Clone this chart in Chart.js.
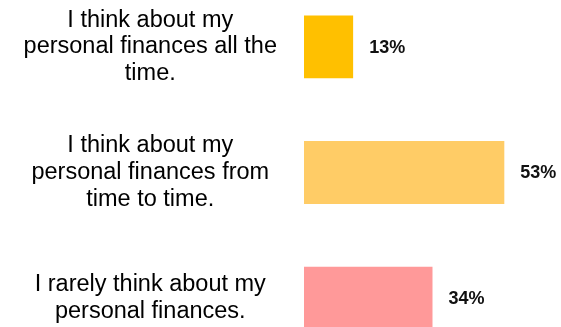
<!DOCTYPE html>
<html lang="en">
<head>
<meta charset="UTF-8">
<title>Personal finances</title>
<style>
html, body { margin:0; padding:0; background:#fff; overflow:hidden; width:561px; height:327px; }
#wrap { position:absolute; left:0; top:-16px; width:561px; height:377px; }
</style>
</head>
<body>
<div id="wrap"><canvas id="chart"></canvas></div>

<script src="https://cdn.jsdelivr.net/npm/chart.js"></script>
<script>
// answer texts, one array entry per line of the label
const categories = [
  ['I think about my', 'personal finances all the', 'time.'],
  ['I think about my', 'personal finances from', 'time to time.'],
  ['I rarely think about my', 'personal finances.']
];
const shares = [13, 53, 34];
const barColors = ['#FFC000', '#FFCC66', '#FF9999'];

// percent labels to the right of each bar
const valueLabels = {
  id: 'valueLabels',
  afterDatasetsDraw(chart) {
    const ctx = chart.ctx;
    const meta = chart.getDatasetMeta(0);
    ctx.save();
    ctx.font = 'bold 18px "Liberation Sans", Arial, sans-serif';
    ctx.fillStyle = '#111';
    ctx.textAlign = 'left';
    ctx.textBaseline = 'middle';
    meta.data.forEach((bar, i) => {
      ctx.fillText(shares[i] + '%', bar.x + 16, bar.y + 1);
    });
    ctx.restore();
  }
};

new Chart(document.getElementById('chart'), {
  type: 'bar',
  data: {
    labels: categories,
    datasets: [{
      data: shares,
      backgroundColor: barColors,
      borderWidth: 0,
      barPercentage: 0.5,
      categoryPercentage: 1
    }]
  },
  options: {
    indexAxis: 'y',
    responsive: true,
    maintainAspectRatio: false,
    animation: false,
    layout: { padding: 0 },
    plugins: {
      legend: { display: false },
      tooltip: { enabled: false }
    },
    scales: {
      x: {
        display: false,
        min: 0,
        max: 68
      },
      y: {
        grid: { display: false, drawTicks: false },
        border: { display: false },
        afterFit(scale) {
          scale.width = 304;
          // labels may spill past the plot, do not shrink it for them
          scale.paddingTop = 0;
          scale.paddingBottom = 0;
        },
        ticks: {
          crossAlign: 'center',
          padding: 27,
          color: '#000',
          font: { family: '"Liberation Sans", Arial, sans-serif', size: 23.5, lineHeight: 1.13 }
        }
      }
    }
  },
  plugins: [valueLabels]
});
</script>
</body>
</html>
